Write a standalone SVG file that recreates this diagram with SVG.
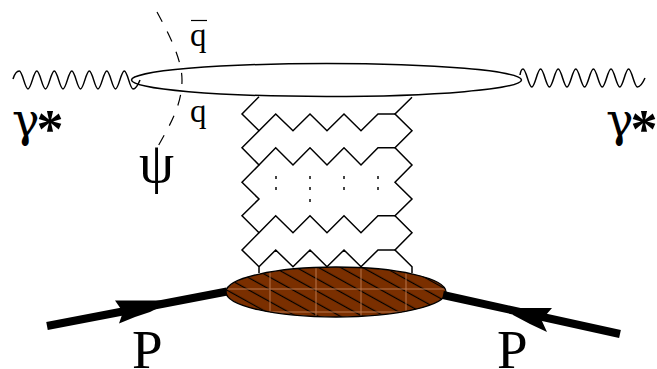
<svg xmlns="http://www.w3.org/2000/svg" width="657" height="369" viewBox="0 0 657 369">
<style>
.ln{fill:none;stroke:#000;stroke-width:1.5;stroke-linejoin:miter}
.t{font-family:"Liberation Serif","Times New Roman",serif;fill:#000}
.g{font-family:"DejaVu Serif","Liberation Serif",serif;font-size:46px}
.a{font-family:"Liberation Serif",serif;font-size:54px;font-weight:bold}
.lt{stroke:#b8774c;stroke-width:1;fill:none}
.d{fill:#444}
</style>
<defs>
<pattern id="hatch" width="40" height="10.7" patternUnits="userSpaceOnUse" patternTransform="translate(225 283) rotate(29)">
<rect x="0" y="4.7" width="40" height="1.2" fill="#000"/>
</pattern>
</defs>
<rect width="657" height="369" fill="#fff"/>
<g id="arrow-left">
<path d="M47 326L227 291.5" fill="none" stroke="#000" stroke-width="8"/>
<polygon points="115,300.5 173,300.5 150,312 135,317 119,323.5 123,312"/>
</g>
<g id="blob-top">
<ellipse cx="326.5" cy="80" rx="195" ry="16.5" fill="#fff" stroke="#000" stroke-width="1.5"/>
</g>
<g id="connectors">
<path class="ln" d="M13 79Q15.5 71 19.3 71C22.5 71 24.9 89 28 89S33.6 71 36.8 71 42.4 89 45.5 89 51.1 71 54.3 71 59.9 89 63 89 68.6 71 71.8 71 77.4 89 80.5 89 86.1 71 89.3 71 94.9 89 98 89 103.6 71 106.8 71 112.4 89 115.5 89 121.1 71 124.3 71 129.9 89 133 89Q136.5 89 140 80"/>
<path class="ln" d="M520 75Q521 69 523 69C526.2 69 528.6 87 531.8 87S537.4 69 540.6 69 546.2 87 549.4 87 555 69 558.2 69 563.8 87 567 87 572.6 69 575.8 69 581.4 87 584.6 87 590.2 69 593.4 69 599 87 602.2 87 607.8 69 611 69 616.6 87 619.8 87 625.4 69 628.6 69 634.2 87 637.4 87Q641 87 645 78"/>
<path d="M157 12C170 36 182 60 182 80C182 105 170 125 157 148" fill="none" stroke="#000" stroke-width="1.2" stroke-dasharray="11 11"/>
<path class="ln" d="M259 96.7L242 114 259 130.7 242 147.7 259 165 242 182.3 259 199 242 215.7 259 232.7 242 250 259 266.7V273"/>
<path class="ln" d="M412 97.3L395 114 412 130.7 395 147.7 412 165 395 182.3 412 199 395 215.7 412 232.7 395 250 412 266.7V273"/>
<path class="ln" d="M259 130.7L275.7 114 293 130.7 310 114 327 130.7 344 114 361 130.7 378 114H395"/>
<path class="ln" d="M259 165L275.7 147.7 293 165 310 147.7 327 165 344 147.7 361 165 378 147.7H395"/>
<path class="ln" d="M259 232.7L275.7 215.7 293 232.7 310 215.7 327 232.7 344 215.7 361 232.7 378 215.7H395"/>
<path class="ln" d="M259 266.7L275.7 250 293 266.7 310 250 327 266.7 344 250 361 266.7 378 250H395"/>
<rect class="d" x="275" y="176" width="2" height="3"/><rect class="d" x="309" y="176" width="2" height="3"/><rect class="d" x="343" y="176" width="2" height="3"/><rect class="d" x="377" y="176" width="2" height="3"/>
<rect class="d" x="275" y="187" width="2" height="3"/><rect class="d" x="309" y="187" width="2" height="3"/><rect class="d" x="343" y="187" width="2" height="3"/><rect class="d" x="377" y="187" width="2" height="3"/>
<rect class="d" x="309" y="199" width="2" height="3"/>
</g>
<g id="blob-bottom">
<ellipse cx="336" cy="292" rx="110" ry="25" fill="#7a2f00"/>
<ellipse cx="336" cy="292" rx="110" ry="25" fill="url(#hatch)"/>
<path class="lt" d="M270 272V312M316 267.6V316.4M361 267.7V316.3M406 273V311M227 289H445M270 312H402"/>
<ellipse cx="336" cy="292" rx="110" ry="25" fill="none" stroke="#000" stroke-width="1.4"/>
</g>
<g id="arrow-right">
<path d="M443 295L620 334" fill="none" stroke="#000" stroke-width="8"/>
<polygon points="511,308 552,308 541.5,320 547,332 530,324 513,315"/>
</g>
<g id="labels">
<text class="t" x="12" y="136"><tspan class="g">γ</tspan><tspan class="a" dx="-3" dy="11">*</tspan></text>
<text class="t" x="606" y="136"><tspan class="g">γ</tspan><tspan class="a" dx="-3" dy="11">*</tspan></text>
<text class="t" x="139" y="182" font-size="56">ψ</text>
<text class="t" x="190" y="45.5" font-size="33">q</text>
<line x1="191" y1="20.5" x2="207" y2="20.5" stroke="#000" stroke-width="1.2"/>
<text class="t" x="190" y="122" font-size="33">q</text>
<text class="t" x="132" y="368" font-size="55">P</text>
<text class="t" x="497" y="368" font-size="55">P</text>
</g>
</svg>
